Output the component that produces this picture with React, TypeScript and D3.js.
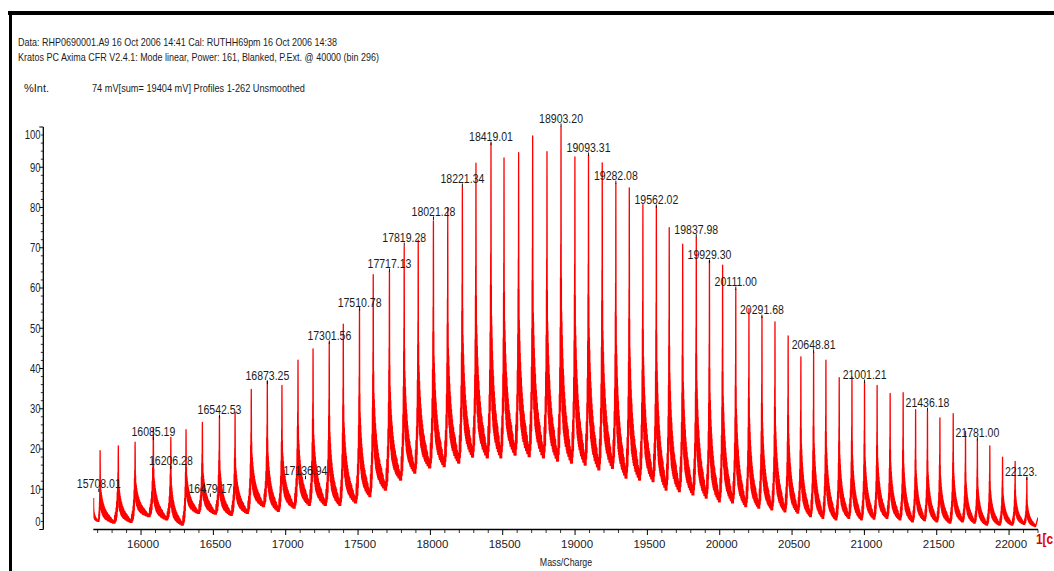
import React from 'react';
import * as d3 from 'd3';

// peak apexes (m/z, %Int)
const peakMass = [
  15717, 15843, 15959, 16085, 16206, 16311, 16424, 16542, 16650, 16762,
  16873, 16974, 17085, 17189, 17301, 17398, 17510, 17605, 17717, 17819,
  17916, 18021, 18120, 18221, 18315, 18419, 18509, 18610, 18707, 18806,
  18903, 18999, 19093, 19188, 19282, 19375, 19469, 19562, 19651, 19744,
  19838, 19929, 20020, 20111, 20202, 20292, 20382, 20473, 20561, 20649,
  20734, 20826, 20914, 21001, 21088, 21178, 21268, 21354, 21436, 21522,
  21614, 21699, 21781, 21867, 21955, 22042, 22123,
];
const peakHeight = [
  19.6, 20.8, 21.7, 25.3, 22.9, 24.8, 26.6, 28.1, 29.1, 34.8,
  36.9, 35.8, 42.1, 44.9, 46.4, 51.0, 54.7, 63.3, 64.1, 70.3,
  71.9, 76.7, 79.9, 85.1, 91.0, 95.9, 92.3, 93.6, 97.8, 93.9,
  100, 92.6, 93.0, 91.1, 85.9, 84.9, 80.7, 80.3, 75.0, 70.9,
  72.5, 66.8, 65.7, 59.7, 54.9, 52.9, 51.6, 48.1, 42.9, 44.1,
  42.1, 37.7, 37.9, 36.6, 35.8, 33.8, 34.0, 29.8, 29.4, 27.7,
  28.8, 24.4, 22.3, 20.8, 18.0, 16.9, 12.8,
];
// lowest level of the trace just before each peak
const troughBefore = [
  2.0, 1.6, 1.8, 3.2, 2.4, 1.1, 4.0, 3.8, 3.5, 4.0,
  5.7, 4.5, 5.3, 6.0, 6.0, 6.0, 6.6, 8.2, 9.8, 12.3,
  14.0, 15.3, 15.6, 16.5, 18.0, 17.8, 17.8, 18.5, 18.1, 17.8,
  17.0, 16.5, 16.0, 14.8, 15.2, 12.8, 12.3, 11.9, 9.8, 9.4,
  8.6, 7.8, 6.9, 6.6, 5.7, 5.3, 4.9, 4.4, 4.1, 3.2,
  2.8, 2.4, 2.8, 2.4, 2.6, 2.8, 2.4, 1.9, 2.2, 1.9,
  1.6, 1.9, 1.6, 1.1, 1.1, 1.1, 1.3,
];
const traceStart = { mass: 15672, value: 7.8 };
const traceEnd = { mass: 22200, value: 3.0 };
const endTrough = 0.7;

// shape of one peak's ragged tail and of the next peak's leading edge,
// read from a typical peak: [fraction of spacing, fraction of height above trough]
const decayShape: [number, number][] = [
  [0.008, 0.75], [0.016, 0.35], [0.026, 0.55], [0.036, 0.2], [0.046, 0.45],
  [0.056, 0.18], [0.066, 0.42], [0.078, 0.15], [0.09, 0.38], [0.102, 0.14],
  [0.114, 0.34], [0.127, 0.12], [0.14, 0.31], [0.153, 0.1], [0.166, 0.28],
  [0.18, 0.09], [0.195, 0.26], [0.21, 0.08], [0.225, 0.23], [0.24, 0.07],
  [0.256, 0.21], [0.272, 0.06], [0.29, 0.19], [0.308, 0.05], [0.326, 0.17],
  [0.344, 0.05], [0.362, 0.15], [0.38, 0.04], [0.4, 0.14], [0.42, 0.03],
  [0.44, 0.12], [0.46, 0.03], [0.48, 0.11], [0.5, 0.02], [0.52, 0.1],
  [0.54, 0.02], [0.56, 0.08], [0.585, 0.01], [0.61, 0.07], [0.635, 0.01],
  [0.66, 0.05], [0.685, 0.0], [0.71, 0.04], [0.735, 0.0], [0.76, 0.02],
];
const riseShape: [number, number][] = [
  [0.78, 0.0], [0.8, 0.1], [0.82, 0.0], [0.84, 0.14], [0.86, 0.02],
  [0.88, 0.2], [0.895, 0.04], [0.91, 0.28], [0.925, 0.08], [0.94, 0.4],
  [0.952, 0.15], [0.963, 0.55], [0.972, 0.3], [0.98, 0.65], [0.987, 0.4], [0.994, 0.85],
];

// annotated masses and the level their marker points at
const labelText = [
  '15708.01', '16085.19', '16206.28', '16479.17', '16542.53', '16873.25', '17136.94',
  '17301.56', '17510.78', '17717.13', '17819.28', '18021.28', '18221.34', '18419.01',
  '18903.20', '19093.31', '19282.08', '19562.02', '19837.98', '19929.30', '20111.00',
  '20291.68', '20648.81', '21001.21', '21436.18', '21781.00', '22123.',
];
const labelLevel = [
  9.3, 22.2, 15.0, 8.1, 27.7, 36.1, 12.5,
  46.1, 54.4, 64.0, 70.4, 76.9, 85.1, 95.5,
  100, 92.8, 85.8, 79.9, 72.5, 66.2, 59.5,
  52.5, 43.9, 36.4, 29.4, 22.1, 12.3,
];

const xMajor = [16000, 16500, 17000, 17500, 18000, 18500, 19000, 19500, 20000, 20500, 21000, 21500, 22000];
const yMajor = [0, 10, 20, 30, 40, 50, 60, 70, 80, 90, 100];

const headerLines = [
  'Data: RHP0690001.A9 16 Oct 2006 14:41 Cal: RUTHH69pm 16 Oct 2006 14:38',
  'Kratos PC Axima CFR V2.4.1: Mode linear, Power: 161, Blanked, P.Ext. @ 40000 (bin 296)',
];

const font = "'Liberation Sans', Arial, sans-serif";
const ink = '#1c1c1c';

function buildTrace(): [number, number][] {
  const apexM = [traceStart.mass, ...peakMass];
  const apexH = [traceStart.value, ...peakHeight];
  const pts: [number, number][] = [];
  for (let i = 0; i < apexM.length; i++) {
    const last = i === apexM.length - 1;
    const m0 = apexM[i];
    const h0 = apexH[i];
    const span = last ? m0 - apexM[i - 1] : apexM[i + 1] - m0;
    const T = last ? endTrough : troughBefore[i];
    pts.push([m0, h0]);
    decayShape.forEach(([t, f]) => pts.push([m0 + t * span, T + (h0 - T) * f]));
    if (!last) {
      const h1 = apexH[i + 1];
      riseShape.forEach(([t, f]) => pts.push([m0 + t * span, T + (h1 - T) * f]));
    }
  }
  pts.push([traceEnd.mass, traceEnd.value]);
  return pts;
}

export default function App() {
  const x = d3.scaleLinear().domain([15670, 22200]).range([93.3, 1038]);
  const y = d3.scaleLinear().domain([0, 100]).range([529.5, 127]);
  const axisX = 43.3;

  const line = d3.line<[number, number]>()
    .x(d => x(d[0]))
    .y(d => y(d[1]));
  const trace = line(buildTrace()) || '';

  const xMinor = d3.range(15700, 22201, 100).filter(v => v % 500 !== 0);
  const yMinor = d3.range(0, 101, 2).filter(v => v % 10 !== 0);

  return (
    <svg width={1054} height={571} style={{ position: 'absolute', left: 0, top: 0, background: '#fff' }}>
      <defs>
        <clipPath id="plotClip">
          <rect x={x(15670)} y={100} width={x(22200) - x(15670)} height={432} />
        </clipPath>
        <clipPath id="labelClip">
          <rect x={0} y={100} width={x(22200)} height={432} />
        </clipPath>
      </defs>

      {/* frame */}
      <rect x={8} y={11} width={1046} height={4} fill="#000" />
      <rect x={9} y={11} width={3} height={560} fill="#000" />

      {/* header */}
      <g fontFamily={font} fontSize={11} fill={ink}>
        <text x={18} y={46} textLength={319} lengthAdjust="spacingAndGlyphs">{headerLines[0]}</text>
        <text x={18} y={61} textLength={361} lengthAdjust="spacingAndGlyphs">{headerLines[1]}</text>
        <text x={24} y={92} textLength={25} lengthAdjust="spacingAndGlyphs">%Int.</text>
        <text x={92} y={92} textLength={213} lengthAdjust="spacingAndGlyphs">74 mV[sum= 19404 mV]  Profiles 1-262 Unsmoothed</text>
      </g>

      {/* y axis */}
      <line x1={axisX} x2={axisX} y1={y(100)} y2={y(0)} stroke="#000" strokeWidth={1.3} />
      {yMajor.map(v => (
        <line key={'ym' + v} x1={axisX - 4} x2={axisX} y1={y(v)} y2={y(v)} stroke="#000" strokeWidth={1} />
      ))}
      {yMinor.map(v => (
        <line key={'yn' + v} x1={axisX - 2.5} x2={axisX} y1={y(v)} y2={y(v)} stroke="#000" strokeWidth={0.8} />
      ))}
      {yMajor.map(v => {
        // end labels sit one minor step inside the axis
        const pos = v === 100 ? y(98) : v === 0 ? y(2) : y(v);
        return (
          <text key={'yl' + v} transform={`translate(40.5,${pos + 4.3}) scale(0.76,1)`}
            textAnchor="end" fontFamily={font} fontSize={12.5} fill={ink}>{v}</text>
        );
      })}

      {/* x axis */}
      <line x1={x(15670)} x2={x(22200)} y1={529.5} y2={529.5} stroke="#000" strokeWidth={1.6} />
      {xMajor.map(v => (
        <line key={'xm' + v} x1={x(v)} x2={x(v)} y1={529.5} y2={535} stroke="#000" strokeWidth={1} />
      ))}
      {xMinor.map(v => (
        <line key={'xn' + v} x1={x(v)} x2={x(v)} y1={529.5} y2={533} stroke="#000" strokeWidth={0.8} />
      ))}
      {xMajor.map(v => (
        <text key={'xl' + v} x={x(v) + 2} y={548} textAnchor="middle" fontFamily={font} fontSize={11.5} fill={ink}>{v}</text>
      ))}
      <text transform="translate(566,566) scale(0.8,1)" textAnchor="middle" fontFamily={font} fontSize={11} fill={ink}>Mass/Charge</text>

      {/* spectrum */}
      <path d={trace} fill="none" stroke="#ff0000" strokeWidth={1.3} strokeLinejoin="round" clipPath="url(#plotClip)" />

      {/* peak annotations */}
      <g clipPath="url(#labelClip)">
        {labelText.map((t, i) => {
          const m = parseFloat(t);
          const px = x(m);
          const py = y(labelLevel[i]);
          const open = t.endsWith('.');
          return (
            <g key={t}>
              <line x1={px} x2={px} y1={py - 3.5} y2={py} stroke="#000" strokeWidth={0.9} />
              <text transform={`translate(${px},${py - 4}) scale(0.78,1)`}
                textAnchor={open ? 'start' : 'middle'} x={open ? -28 : 0}
                fontFamily={font} fontSize={13.5} fill={ink}>{t}</text>
            </g>
          );
        })}
      </g>

      <text transform="translate(1036,544) scale(0.85,1)" fontFamily={font} fontSize={14} fontWeight="bold" fill="#e00000">1[c</text>
    </svg>
  );
}
